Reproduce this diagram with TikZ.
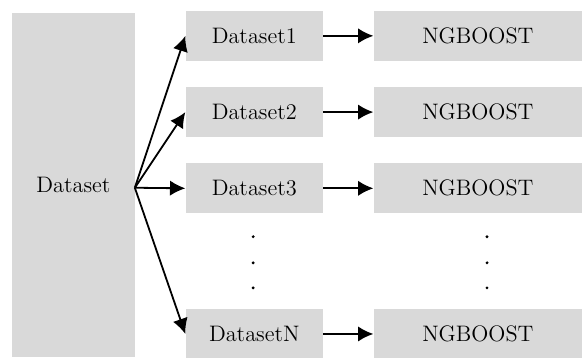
\documentclass[tikz,border=0pt]{standalone}
\usetikzlibrary{positioning,arrows.meta}
\definecolor{boxgray}{HTML}{D9D9D9}
\tikzset{
  flowarrow/.style={-{Latex[length=2.7mm, width=2.7mm]}, line width=0.9pt},
  basenode/.style={fill=boxgray, inner sep=0pt, minimum width=2.16cm, minimum height=6.05cm, align=center},
  subnode/.style={fill=boxgray, inner sep=0pt, minimum width=2.41cm, minimum height=0.88cm, align=center},
  modelnode/.style={fill=boxgray, inner sep=0pt, minimum width=3.66cm, minimum height=0.88cm, align=center}
}
\begin{document}
\begin{tikzpicture}[font=\fontsize{11.2}{13}\selectfont]
  \useasboundingbox (0,0) rectangle (10.23,-6.29);
  \node[basenode] (data) at (1.29,-3.25) {Dataset};
  \node[subnode] (d1) at (4.47,-0.63) {Dataset1};
  \node[subnode] (d2) at (4.47,-1.97) {Dataset2};
  \node[subnode] (d3) at (4.47,-3.31) {Dataset3};
  \node[subnode] (dn) at (4.47,-5.87) {DatasetN};
  \node[modelnode] (m1) at (8.40,-0.63) {NGBOOST};
  \node[modelnode] (m2) at (8.40,-1.97) {NGBOOST};
  \node[modelnode] (m3) at (8.40,-3.31) {NGBOOST};
  \node[modelnode] (mn) at (8.40,-5.87) {NGBOOST};
  \coordinate (fan) at (2.37,-3.30);
  % split the data
  \foreach \s in {d1,d2,d3,dn}
    \draw[flowarrow] (fan) -- (\s.west);
  % train one model per subset
  \foreach \s/\m in {d1/m1,d2/m2,d3/m3,dn/mn}
    \draw[flowarrow] (\s) -- (\m);
  % dots
  \foreach \y in {-4.16,-4.62,-5.06} {
    \fill (4.45,\y) circle (0.8pt);
    \fill (8.56,\y) circle (0.8pt);
  }
\end{tikzpicture}
\end{document}
